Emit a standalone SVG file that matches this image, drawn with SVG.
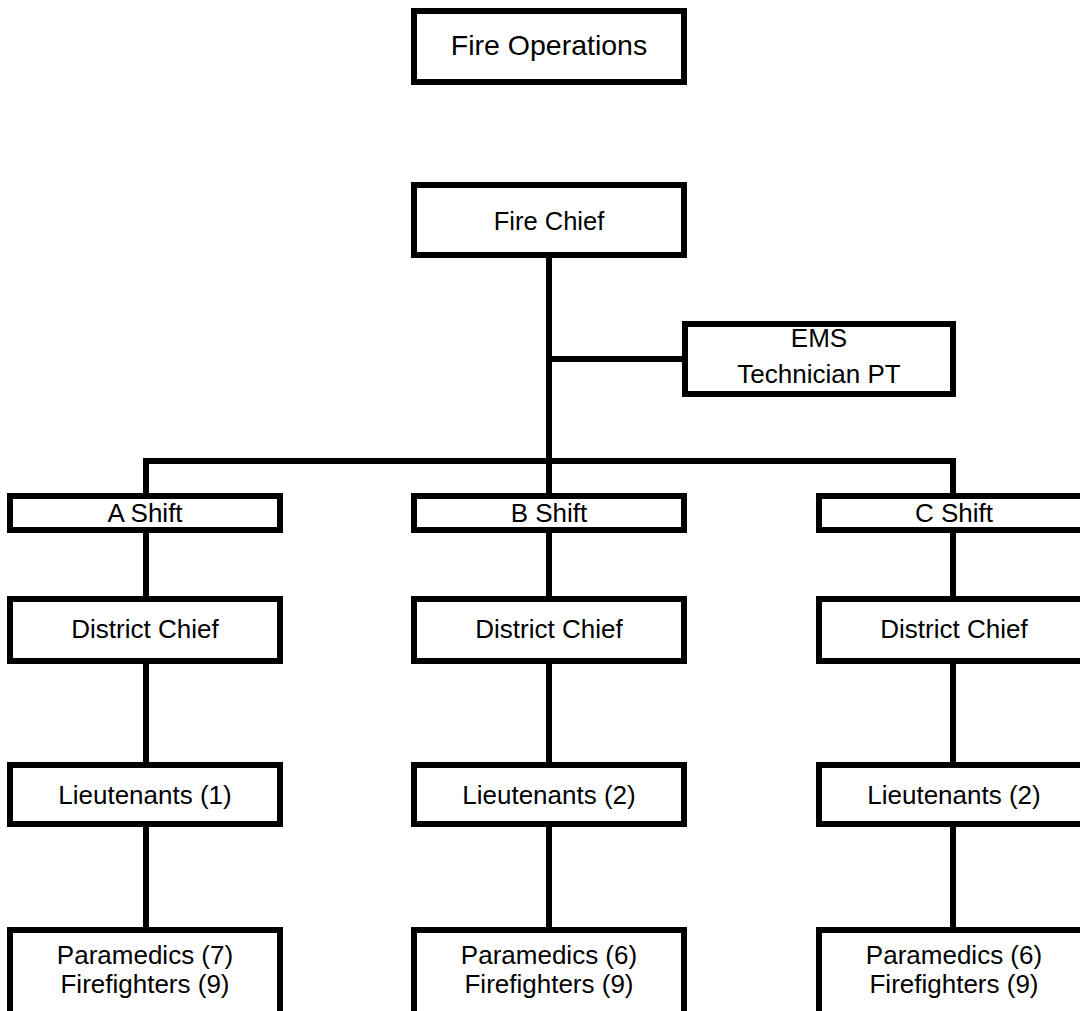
<svg xmlns="http://www.w3.org/2000/svg" width="1080" height="1011" viewBox="0 0 1080 1011">
<style>
.box{fill:#fff;stroke:#000;stroke-width:6}
.ln{fill:none;stroke:#000;stroke-width:6}
text{font-family:"Liberation Sans",Arial,sans-serif;font-size:26px;fill:#000;text-anchor:middle}
</style>
<rect width="1080" height="1011" fill="#fff"/>
<g id="connectors">
<path class="ln" d="M549 258V493"/>
<path class="ln" d="M549 359H682"/>
<path class="ln" d="M146 493V461H953V493"/>
<path class="ln" d="M146 532V596M146 664V762M146 827V927"/>
<path class="ln" d="M549 532V596M549 664V762M549 827V927"/>
<path class="ln" d="M953 532V596M953 664V762M953 827V927"/>
</g>
<g id="fire-operations"><rect class="box" x="414" y="11" width="270" height="71"/><text x="549" y="55" style="font-size:28.5px">Fire Operations</text></g>
<g id="fire-chief"><rect class="box" x="414" y="185" width="270" height="70"/><text x="549" y="230" style="font-size:25.5px">Fire Chief</text></g>
<g id="ems"><rect class="box" x="685" y="324" width="268" height="70"/><text x="819" y="347">EMS</text><text x="819" y="383">Technician PT</text></g>
<g id="a-shift"><rect class="box" x="10" y="496" width="270" height="34"/><text x="145" y="522">A Shift</text></g>
<g id="b-shift"><rect class="box" x="414" y="496" width="270" height="34"/><text x="549" y="522">B Shift</text></g>
<g id="c-shift"><rect class="box" x="819" y="496" width="270" height="34"/><text x="954" y="522">C Shift</text></g>
<g id="a-district"><rect class="box" x="10" y="599" width="270" height="62"/><text x="145" y="638">District Chief</text></g>
<g id="b-district"><rect class="box" x="414" y="599" width="270" height="62"/><text x="549" y="638">District Chief</text></g>
<g id="c-district"><rect class="box" x="819" y="599" width="270" height="62"/><text x="954" y="638">District Chief</text></g>
<g id="a-lieutenants"><rect class="box" x="10" y="765" width="270" height="59"/><text x="145" y="804">Lieutenants (1)</text></g>
<g id="b-lieutenants"><rect class="box" x="414" y="765" width="270" height="59"/><text x="549" y="804">Lieutenants (2)</text></g>
<g id="c-lieutenants"><rect class="box" x="819" y="765" width="270" height="59"/><text x="954" y="804">Lieutenants (2)</text></g>
<g id="a-crew"><rect class="box" x="10" y="930" width="270" height="100"/><text x="145" y="964">Paramedics (7)</text><text x="145" y="993">Firefighters (9)</text></g>
<g id="b-crew"><rect class="box" x="414" y="930" width="270" height="100"/><text x="549" y="964">Paramedics (6)</text><text x="549" y="993">Firefighters (9)</text></g>
<g id="c-crew"><rect class="box" x="819" y="930" width="270" height="100"/><text x="954" y="964">Paramedics (6)</text><text x="954" y="993">Firefighters (9)</text></g>
</svg>
